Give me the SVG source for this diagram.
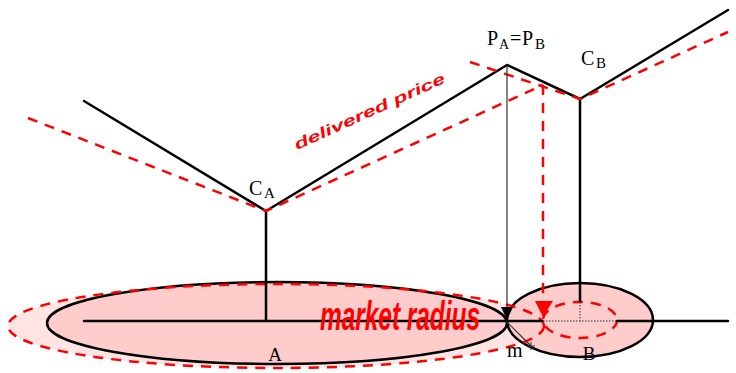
<svg xmlns="http://www.w3.org/2000/svg" width="736" height="373" viewBox="0 0 736 373">
<style>
.blk{stroke:#000;stroke-width:2.5;fill:none;stroke-linecap:round;stroke-linejoin:round}
.thin{stroke:#333;stroke-width:1.2;fill:none}
.rd{stroke:#f00;stroke-width:2.5;fill:none;stroke-dasharray:10 8}
.dot{stroke:#666;stroke-width:1.5;stroke-dasharray:1.5 1.5;fill:none}
.lbl{font-family:"Liberation Serif","Times New Roman",serif;fill:#000}
.red{font-family:"Liberation Sans",Arial,sans-serif;font-weight:bold;font-style:italic;fill:#f00}
</style>
<rect width="736" height="373" fill="#fff"/>
<g id="regionA">
<ellipse cx="276" cy="326" rx="268" ry="42" fill="#ffe4e4" stroke="none"/>
<ellipse cx="277" cy="323" rx="230" ry="41" fill="#ffcccc" stroke="#000" stroke-width="2.5"/>
</g>
<g id="regionB">
<ellipse cx="580" cy="320" rx="73" ry="37" fill="#ffcccc" stroke="#000" stroke-width="2.5"/>
<ellipse cx="580" cy="320" rx="37" ry="18" class="rd"/>
</g>
<g id="connectors">
<ellipse cx="276" cy="326" rx="268" ry="42" class="rd"/>
<line x1="84" y1="321" x2="543" y2="321" class="blk"/>
<line x1="543" y1="321" x2="617" y2="321" class="dot"/>
<line x1="617" y1="321" x2="728" y2="321" class="blk"/>
<line x1="266" y1="211" x2="266" y2="321" class="blk"/>
<line x1="580" y1="99" x2="580" y2="302" class="blk"/>
<line x1="580" y1="302" x2="580" y2="321" class="dot"/>
<polyline points="84,101 266,211 507,65 580,99 728,10" class="blk"/>
<polyline points="28,118 266,211 543,85" class="rd"/>
<polyline points="470,62 580,99 728,32" class="rd"/>
<line x1="507" y1="65" x2="507" y2="308" class="thin"/>
<polygon points="501,307 513,307 507,320" fill="#000"/>
<line x1="543" y1="85" x2="543" y2="301" class="rd"/>
<polygon points="535,301 553,301 543,317" fill="#f00"/>
<line x1="507" y1="322" x2="531" y2="346" class="thin"/>
<path d="M527,346h8M531,342v8" stroke="#333" stroke-width="1"/>
</g>
<g id="labels">
<text class="lbl" font-size="20" y="45"><tspan x="487">P</tspan><tspan x="499" y="49" font-size="14">A</tspan><tspan x="510" y="45">=</tspan><tspan x="522" y="45">P</tspan><tspan x="535" y="49" font-size="15">B</tspan></text>
<text class="lbl" font-size="20" y="65"><tspan x="581">C</tspan><tspan x="596" y="68" font-size="15">B</tspan></text>
<text class="lbl" font-size="20" y="195"><tspan x="249">C</tspan><tspan x="264" y="198" font-size="15">A</tspan></text>
<text class="lbl" font-size="19" x="275" y="361" text-anchor="middle">A</text>
<text class="lbl" font-size="19" x="589" y="360" text-anchor="middle">B</text>
<text class="lbl" font-size="20" x="507" y="357">m</text>
<text class="red" font-size="15" x="297" y="150" transform="rotate(-24.4 297 150)" textLength="164" lengthAdjust="spacingAndGlyphs">delivered price</text>
<text class="red" font-size="40" x="320" y="330" textLength="160" lengthAdjust="spacingAndGlyphs">market radius</text>
</g>
</svg>
